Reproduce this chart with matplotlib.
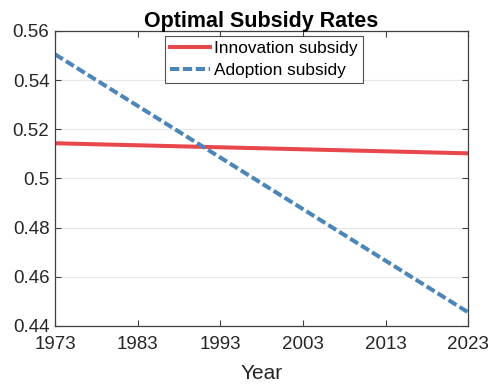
import matplotlib
matplotlib.use("Agg")
import matplotlib.pyplot as plt

years = [1973, 2023]
innovation = [0.5143, 0.5102]
adoption = [0.5505, 0.4455]
xticks = [1973, 1983, 1993, 2003, 2013, 2023]
yticks = [0.44, 0.46, 0.48, 0.50, 0.52, 0.54, 0.56]
ytick_labels = ["0.44", "0.46", "0.48", "0.5", "0.52", "0.54", "0.56"]

plt.rcParams["font.family"] = ["Liberation Sans", "DejaVu Sans"]
axc = "#404040"

fig = plt.figure(figsize=(4.89, 3.87), dpi=100)
ax = fig.add_axes([0.1125, 0.158, 0.845, 0.762])
ax.plot(years, innovation, color="#E8484C", lw=2.9, label="Innovation subsidy")
ax.plot(years, adoption, color="#4C86B8", lw=2.9, ls=(0, (2.3, 0.9)), label="Adoption subsidy")

ax.set_xlim(1973, 2023); ax.set_ylim(0.44, 0.56)
ax.set_xticks(xticks); ax.set_yticks(yticks, ytick_labels)
ax.grid(axis="y", color="#e6e6e6", lw=0.8); ax.set_axisbelow(True)
ax.tick_params(direction="in", length=4, width=0.8, colors=axc, labelcolor="#262626",
               labelsize=13.5, top=True, right=True, pad=4)
ax.tick_params(axis="x", pad=7)
for s in ax.spines.values():
    s.set_color(axc); s.set_linewidth(0.9)

ax.set_xlabel("Year", fontsize=15, color="#262626", labelpad=8)
ax.set_title("Optimal Subsidy Rates", fontsize=15.5, fontweight="bold", pad=3)
leg = ax.legend(loc="upper center", bbox_to_anchor=(0.506, 1.0), fontsize=12.4, frameon=True,
                fancybox=False, edgecolor="#262626", handlelength=2.3, handletextpad=0.25,
                borderpad=0.3, labelspacing=0.4, borderaxespad=0.28)
leg.get_frame().set_linewidth(0.8)

fig.savefig("out.png", dpi=100)
